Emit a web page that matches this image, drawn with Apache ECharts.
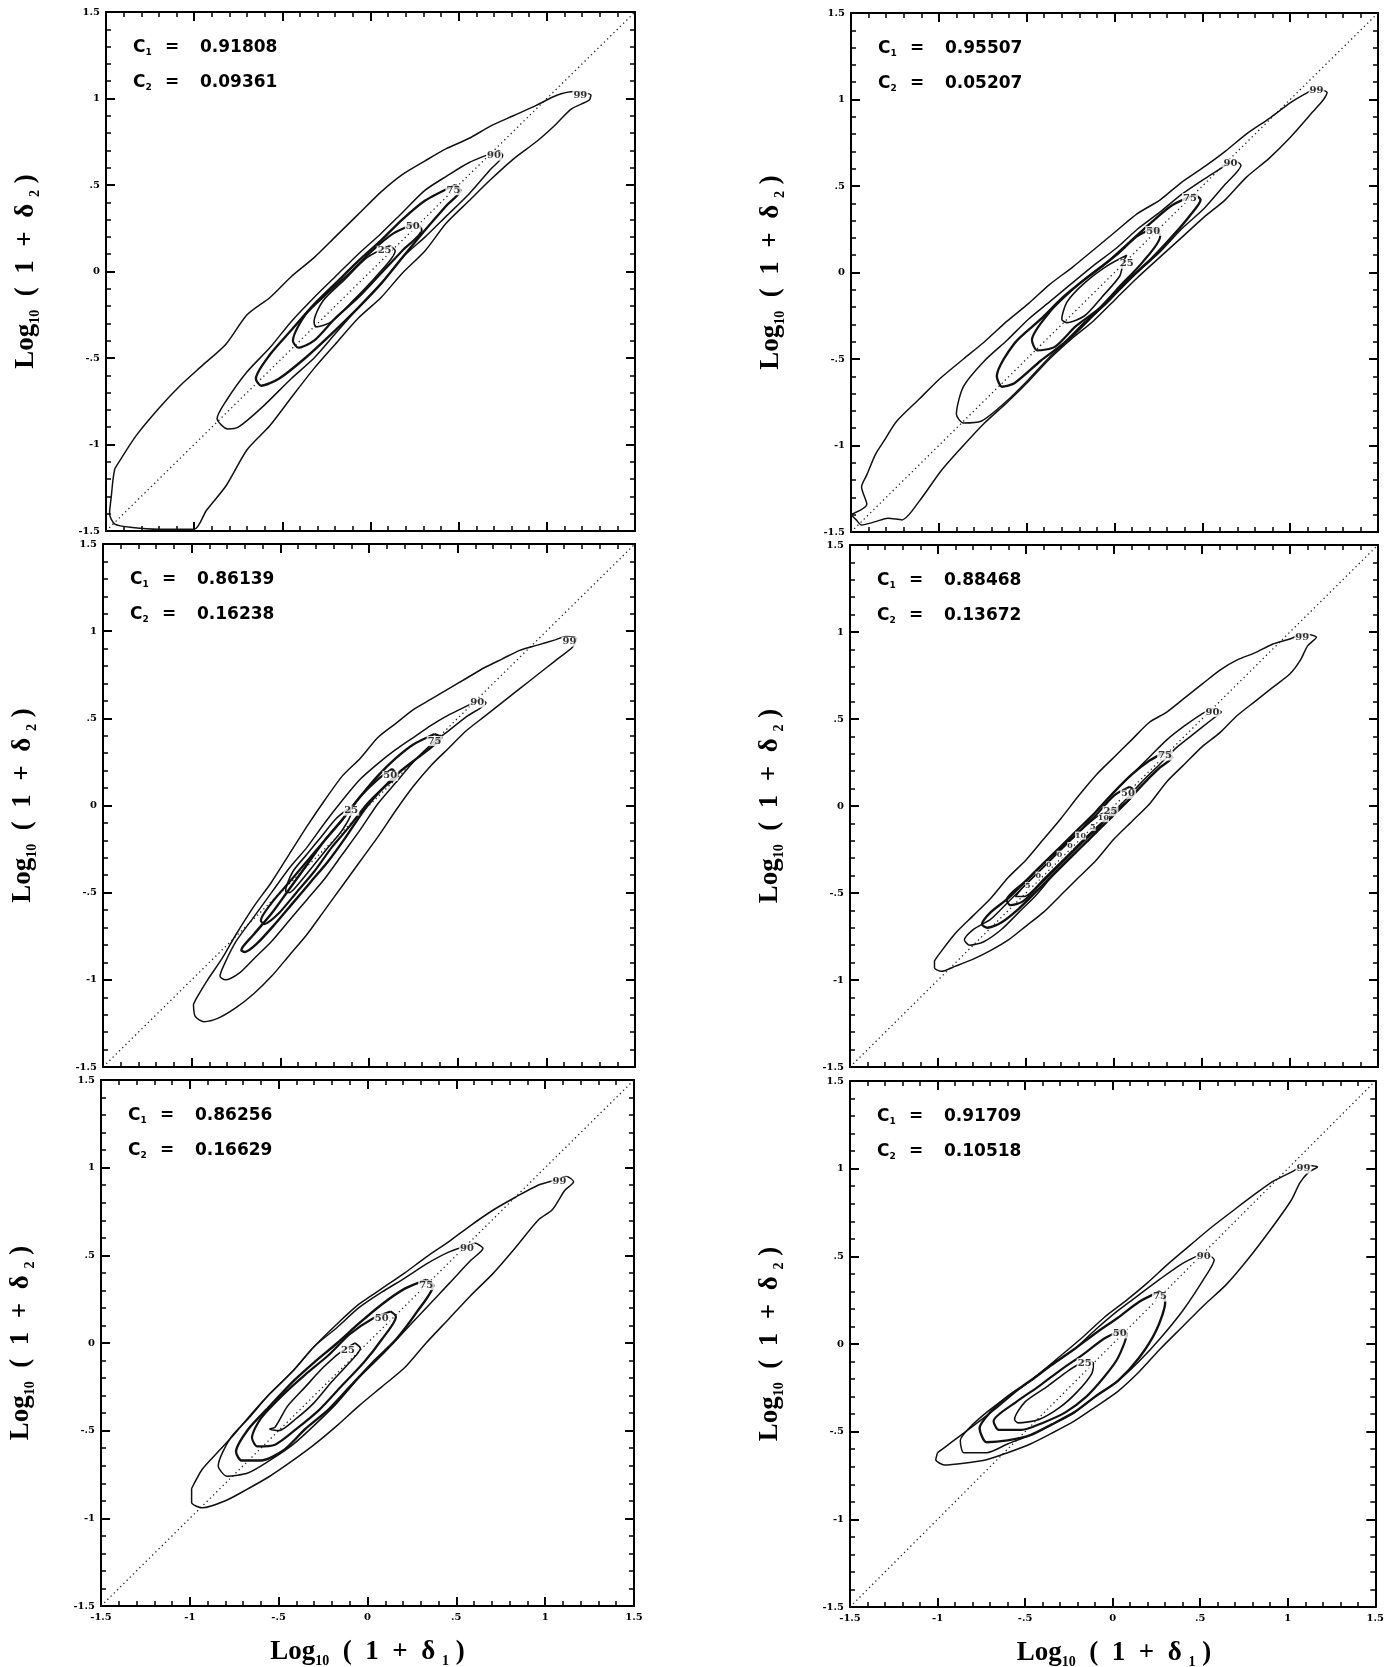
<!DOCTYPE html>
<html>
<head>
<meta charset="utf-8">
<script src="https://cdn.jsdelivr.net/npm/echarts@6/dist/echarts.min.js"></script>
<style>
html,body{margin:0;padding:0;background:#fff;}
#chart{width:1387px;height:1667px;}
</style>
</head>
<body>
<div id="chart"></div>
<script>
// ---------- data ----------
const AXIS_MIN = -1.5, AXIS_MAX = 1.5, AXIS_INTERVAL = 0.5;
const DIAGONAL = [[-1.5, -1.5], [1.5, 1.5]];
const LEVELS = ['99', '90', '75', '50', '25'];
const C1_VALUES = ['0.91808', '0.95507', '0.86139', '0.88468', '0.86256', '0.91709'];
const C2_VALUES = ['0.09361', '0.05207', '0.16238', '0.13672', '0.16629', '0.10518'];

// Panel 1 (top left)
const P1_99 = [[-1.45,-1.14],[-1.33,-0.95],[-1.20,-0.79],[-1.08,-0.66],[-0.95,-0.54],[-0.82,-0.42],[-0.70,-0.25],[-0.57,-0.15],[-0.45,-0.03],[-0.32,0.08],[-0.20,0.20],[-0.07,0.33],[0.06,0.46],[0.18,0.56],[0.31,0.64],[0.43,0.71],[0.56,0.77],[0.68,0.84],[0.81,0.90],[0.94,0.96],[1.06,1.02],[1.16,1.04],[1.25,1.02],[1.24,0.99],[1.14,0.94],[1.04,0.84],[0.94,0.75],[0.81,0.65],[0.68,0.53],[0.56,0.41],[0.43,0.28],[0.31,0.12],[0.18,-0.01],[0.06,-0.15],[-0.07,-0.27],[-0.20,-0.42],[-0.32,-0.56],[-0.45,-0.73],[-0.57,-0.89],[-0.70,-1.03],[-0.82,-1.24],[-0.93,-1.38],[-1.00,-1.49],[-1.20,-1.49],[-1.35,-1.48],[-1.45,-1.46],[-1.48,-1.40],[-1.47,-1.30],[-1.46,-1.20],[-1.45,-1.14]];
const P1_90 = [[0.73,0.70],[0.56,0.63],[0.43,0.55],[0.31,0.47],[0.18,0.34],[0.06,0.22],[-0.07,0.10],[-0.20,-0.03],[-0.32,-0.15],[-0.45,-0.29],[-0.57,-0.44],[-0.70,-0.58],[-0.82,-0.75],[-0.87,-0.85],[-0.81,-0.91],[-0.75,-0.90],[-0.62,-0.79],[-0.45,-0.62],[-0.32,-0.50],[-0.20,-0.36],[-0.07,-0.21],[0.06,-0.07],[0.18,0.08],[0.31,0.20],[0.43,0.32],[0.56,0.45],[0.68,0.59],[0.75,0.67],[0.73,0.70]];
const P1_75 = [[0.48,0.50],[0.31,0.41],[0.18,0.30],[0.06,0.18],[-0.07,0.06],[-0.20,-0.07],[-0.32,-0.19],[-0.45,-0.34],[-0.57,-0.48],[-0.65,-0.62],[-0.62,-0.66],[-0.52,-0.62],[-0.37,-0.50],[-0.20,-0.34],[-0.07,-0.21],[0.06,-0.07],[0.18,0.08],[0.31,0.24],[0.43,0.38],[0.51,0.47],[0.48,0.50]];
const P1_50 = [[0.26,0.28],[0.13,0.22],[0.01,0.12],[-0.12,-0.01],[-0.25,-0.13],[-0.37,-0.25],[-0.44,-0.40],[-0.41,-0.44],[-0.32,-0.40],[-0.20,-0.27],[-0.07,-0.15],[0.06,-0.01],[0.18,0.12],[0.29,0.24],[0.26,0.28]];
const P1_25 = [[0.11,0.15],[-0.02,0.08],[-0.15,-0.05],[-0.27,-0.17],[-0.32,-0.29],[-0.31,-0.32],[-0.22,-0.29],[-0.10,-0.17],[0.03,-0.03],[0.14,0.12],[0.11,0.15]];
const P1_LABELS = [[1.19,1.02],[0.70,0.67],[0.47,0.47],[0.24,0.26],[0.08,0.12]];

// Panel 2 (top right)
const P2_99 = [[-1.50,-1.40],[-1.41,-1.34],[-1.44,-1.24],[-1.41,-1.17],[-1.36,-1.05],[-1.31,-0.97],[-1.24,-0.86],[-1.11,-0.73],[-0.99,-0.61],[-0.86,-0.50],[-0.74,-0.40],[-0.61,-0.28],[-0.49,-0.18],[-0.37,-0.07],[-0.24,0.03],[-0.12,0.13],[0.01,0.24],[0.13,0.34],[0.26,0.42],[0.38,0.52],[0.51,0.61],[0.63,0.70],[0.75,0.80],[0.88,0.89],[1.00,0.98],[1.08,1.03],[1.15,1.06],[1.21,1.04],[1.19,1.00],[1.13,0.93],[1.00,0.78],[0.88,0.66],[0.75,0.55],[0.63,0.42],[0.51,0.32],[0.38,0.20],[0.26,0.09],[0.13,-0.03],[0.01,-0.15],[-0.12,-0.28],[-0.24,-0.38],[-0.37,-0.50],[-0.49,-0.63],[-0.61,-0.75],[-0.74,-0.87],[-0.86,-1.00],[-0.99,-1.15],[-1.11,-1.32],[-1.21,-1.43],[-1.29,-1.42],[-1.36,-1.44],[-1.44,-1.46],[-1.47,-1.43],[-1.50,-1.40]];
const P2_90 = [[0.68,0.65],[0.51,0.54],[0.38,0.45],[0.26,0.35],[0.13,0.25],[0.01,0.14],[-0.12,0.04],[-0.24,-0.06],[-0.37,-0.17],[-0.49,-0.27],[-0.61,-0.39],[-0.74,-0.51],[-0.86,-0.66],[-0.90,-0.82],[-0.86,-0.87],[-0.76,-0.86],[-0.61,-0.74],[-0.49,-0.62],[-0.37,-0.49],[-0.24,-0.37],[-0.12,-0.25],[0.01,-0.12],[0.13,0.00],[0.26,0.12],[0.38,0.25],[0.51,0.37],[0.63,0.51],[0.72,0.62],[0.68,0.65]];
const P2_75 = [[0.46,0.45],[0.33,0.39],[0.21,0.29],[0.08,0.17],[-0.04,0.06],[-0.17,-0.04],[-0.29,-0.14],[-0.42,-0.27],[-0.57,-0.41],[-0.67,-0.60],[-0.64,-0.66],[-0.57,-0.64],[-0.42,-0.51],[-0.29,-0.41],[-0.17,-0.29],[-0.04,-0.17],[0.08,-0.04],[0.21,0.08],[0.33,0.21],[0.43,0.33],[0.49,0.42],[0.46,0.45]];
const P2_50 = [[0.23,0.26],[0.13,0.21],[0.01,0.10],[-0.12,0.00],[-0.24,-0.10],[-0.37,-0.23],[-0.47,-0.39],[-0.44,-0.45],[-0.34,-0.43],[-0.22,-0.31],[-0.09,-0.21],[0.03,-0.08],[0.16,0.06],[0.26,0.21],[0.23,0.26]];
const P2_25 = [[0.07,0.10],[-0.04,0.04],[-0.17,-0.06],[-0.27,-0.17],[-0.30,-0.27],[-0.27,-0.29],[-0.17,-0.25],[-0.07,-0.14],[0.03,-0.02],[0.05,0.06],[0.07,0.10]];
const P2_LABELS = [[1.15,1.05],[0.66,0.63],[0.43,0.43],[0.22,0.24],[0.07,0.05]];

// Panel 3 (middle left)
const P3_99 = [[-0.99,-1.14],[-0.97,-1.10],[-0.91,-1.00],[-0.83,-0.88],[-0.75,-0.74],[-0.65,-0.58],[-0.55,-0.44],[-0.45,-0.28],[-0.35,-0.12],[-0.25,0.03],[-0.15,0.17],[-0.05,0.27],[0.05,0.39],[0.15,0.47],[0.25,0.55],[0.35,0.61],[0.45,0.67],[0.55,0.73],[0.65,0.79],[0.75,0.84],[0.85,0.89],[0.95,0.92],[1.05,0.95],[1.11,0.97],[1.17,0.96],[1.15,0.91],[1.05,0.83],[0.95,0.75],[0.85,0.67],[0.75,0.59],[0.65,0.51],[0.55,0.43],[0.45,0.33],[0.35,0.23],[0.25,0.11],[0.15,-0.03],[0.05,-0.18],[-0.05,-0.32],[-0.15,-0.46],[-0.25,-0.60],[-0.35,-0.74],[-0.45,-0.86],[-0.55,-0.98],[-0.65,-1.08],[-0.75,-1.16],[-0.85,-1.22],[-0.93,-1.24],[-0.98,-1.21],[-0.99,-1.14]];
const P3_90 = [[0.63,0.61],[0.55,0.57],[0.45,0.52],[0.35,0.46],[0.25,0.39],[0.15,0.32],[0.05,0.24],[-0.05,0.15],[-0.15,0.03],[-0.25,-0.10],[-0.35,-0.24],[-0.45,-0.36],[-0.55,-0.50],[-0.65,-0.64],[-0.75,-0.78],[-0.82,-0.92],[-0.84,-0.98],[-0.81,-1.00],[-0.73,-0.96],[-0.65,-0.88],[-0.55,-0.78],[-0.45,-0.66],[-0.35,-0.54],[-0.25,-0.42],[-0.15,-0.28],[-0.05,-0.14],[0.05,0.01],[0.15,0.13],[0.25,0.25],[0.35,0.35],[0.45,0.43],[0.55,0.51],[0.66,0.59],[0.63,0.61]];
const P3_75 = [[0.37,0.41],[0.25,0.35],[0.15,0.27],[0.05,0.17],[-0.05,0.05],[-0.15,-0.08],[-0.25,-0.20],[-0.35,-0.34],[-0.45,-0.48],[-0.55,-0.62],[-0.65,-0.74],[-0.72,-0.83],[-0.70,-0.84],[-0.63,-0.79],[-0.53,-0.68],[-0.43,-0.56],[-0.33,-0.44],[-0.23,-0.32],[-0.13,-0.18],[-0.03,-0.03],[0.07,0.09],[0.17,0.19],[0.27,0.27],[0.37,0.35],[0.41,0.39],[0.37,0.41]];
const P3_50 = [[0.13,0.21],[0.05,0.15],[-0.05,0.05],[-0.15,-0.08],[-0.25,-0.20],[-0.35,-0.32],[-0.45,-0.44],[-0.55,-0.56],[-0.61,-0.66],[-0.59,-0.68],[-0.51,-0.62],[-0.41,-0.50],[-0.31,-0.38],[-0.21,-0.24],[-0.11,-0.12],[-0.01,0.01],[0.09,0.11],[0.16,0.17],[0.13,0.21]];
const P3_25 = [[-0.12,-0.02],[-0.19,-0.08],[-0.27,-0.18],[-0.35,-0.28],[-0.43,-0.38],[-0.47,-0.49],[-0.45,-0.50],[-0.39,-0.44],[-0.31,-0.34],[-0.23,-0.24],[-0.15,-0.14],[-0.10,-0.04],[-0.12,-0.02]];
const P3_LABELS = [[1.13,0.94],[0.61,0.59],[0.37,0.37],[0.12,0.17],[-0.10,-0.03]];

// Panel 4 (middle right)
const P4_99 = [[-1.02,-0.89],[-1.00,-0.86],[-0.90,-0.73],[-0.80,-0.63],[-0.70,-0.53],[-0.60,-0.41],[-0.50,-0.31],[-0.40,-0.19],[-0.30,-0.07],[-0.20,0.06],[-0.10,0.18],[0.00,0.28],[0.10,0.38],[0.20,0.48],[0.30,0.54],[0.40,0.62],[0.50,0.70],[0.60,0.78],[0.70,0.84],[0.80,0.88],[0.90,0.93],[1.00,0.96],[1.08,0.99],[1.15,0.97],[1.10,0.92],[1.06,0.84],[1.00,0.76],[0.90,0.68],[0.80,0.60],[0.70,0.52],[0.60,0.42],[0.50,0.34],[0.40,0.24],[0.30,0.14],[0.20,0.01],[0.10,-0.09],[0.00,-0.19],[-0.10,-0.31],[-0.20,-0.41],[-0.30,-0.51],[-0.40,-0.61],[-0.50,-0.69],[-0.60,-0.77],[-0.70,-0.83],[-0.80,-0.88],[-0.90,-0.92],[-0.98,-0.95],[-1.02,-0.93],[-1.02,-0.89]];
const P4_90 = [[0.56,0.56],[0.50,0.53],[0.40,0.46],[0.30,0.38],[0.20,0.28],[0.10,0.18],[0.00,0.08],[-0.10,-0.03],[-0.20,-0.15],[-0.30,-0.25],[-0.40,-0.35],[-0.50,-0.45],[-0.60,-0.55],[-0.70,-0.65],[-0.80,-0.71],[-0.85,-0.77],[-0.82,-0.80],[-0.74,-0.78],[-0.64,-0.71],[-0.54,-0.61],[-0.44,-0.51],[-0.34,-0.39],[-0.24,-0.29],[-0.14,-0.19],[-0.04,-0.07],[0.06,0.03],[0.16,0.14],[0.26,0.24],[0.36,0.34],[0.46,0.42],[0.56,0.50],[0.61,0.54],[0.56,0.56]];
const P4_75 = [[0.29,0.31],[0.20,0.26],[0.10,0.18],[0.00,0.08],[-0.10,-0.03],[-0.20,-0.13],[-0.30,-0.23],[-0.40,-0.33],[-0.50,-0.43],[-0.60,-0.53],[-0.70,-0.61],[-0.75,-0.68],[-0.72,-0.70],[-0.64,-0.67],[-0.54,-0.59],[-0.44,-0.49],[-0.34,-0.39],[-0.24,-0.29],[-0.14,-0.19],[-0.04,-0.09],[0.06,0.01],[0.16,0.12],[0.26,0.22],[0.33,0.28],[0.29,0.31]];
const P4_50 = [[0.09,0.11],[0.00,0.06],[-0.10,-0.05],[-0.20,-0.15],[-0.30,-0.24],[-0.40,-0.33],[-0.50,-0.43],[-0.61,-0.54],[-0.59,-0.57],[-0.52,-0.55],[-0.42,-0.45],[-0.32,-0.35],[-0.22,-0.25],[-0.12,-0.15],[-0.02,-0.05],[0.08,0.03],[0.12,0.08],[0.09,0.11]];
const P4_25 = [[0.00,-0.02],[-0.08,-0.05],[-0.20,-0.15],[-0.32,-0.27],[-0.44,-0.39],[-0.52,-0.47],[-0.56,-0.52],[-0.51,-0.52],[-0.40,-0.42],[-0.28,-0.30],[-0.16,-0.18],[-0.04,-0.07],[0.01,-0.03],[0.00,-0.02]];
const P4_LABELS = [[1.07,0.97],[0.56,0.54],[0.29,0.29],[0.08,0.07],[-0.02,-0.03]];
const P4_INNER_LABELS = [[-0.49,-0.46,'5'],[-0.43,-0.40,'0'],[-0.37,-0.34,'0'],[-0.31,-0.28,'0'],[-0.25,-0.23,'0'],[-0.19,-0.17,'10'],[-0.12,-0.12,'5'],[-0.06,-0.07,'10']];

// Panel 5 (bottom left)
const P5_99 = [[-0.99,-0.83],[-0.93,-0.72],[-0.85,-0.63],[-0.75,-0.52],[-0.65,-0.40],[-0.55,-0.29],[-0.42,-0.16],[-0.30,-0.02],[-0.17,0.11],[-0.05,0.22],[0.08,0.31],[0.21,0.40],[0.33,0.49],[0.46,0.58],[0.58,0.67],[0.71,0.76],[0.83,0.83],[0.96,0.90],[1.06,0.93],[1.12,0.95],[1.16,0.92],[1.11,0.87],[1.04,0.76],[0.96,0.70],[0.83,0.54],[0.71,0.40],[0.58,0.27],[0.46,0.14],[0.33,0.00],[0.21,-0.14],[0.08,-0.25],[-0.05,-0.36],[-0.17,-0.47],[-0.30,-0.58],[-0.42,-0.67],[-0.55,-0.76],[-0.67,-0.83],[-0.80,-0.90],[-0.93,-0.94],[-0.99,-0.91],[-0.99,-0.83]];
const P5_90 = [[0.61,0.57],[0.46,0.52],[0.33,0.45],[0.21,0.37],[0.08,0.29],[-0.05,0.20],[-0.17,0.09],[-0.30,-0.02],[-0.42,-0.16],[-0.55,-0.29],[-0.67,-0.43],[-0.77,-0.54],[-0.84,-0.70],[-0.79,-0.76],[-0.67,-0.74],[-0.55,-0.67],[-0.42,-0.58],[-0.30,-0.47],[-0.17,-0.34],[-0.05,-0.20],[0.08,-0.07],[0.21,0.07],[0.33,0.20],[0.46,0.34],[0.58,0.47],[0.65,0.54],[0.61,0.57]];
const P5_75 = [[0.33,0.36],[0.21,0.31],[0.08,0.22],[-0.05,0.11],[-0.17,0.00],[-0.30,-0.11],[-0.42,-0.22],[-0.55,-0.36],[-0.67,-0.49],[-0.74,-0.62],[-0.71,-0.67],[-0.60,-0.67],[-0.47,-0.61],[-0.35,-0.49],[-0.22,-0.38],[-0.10,-0.25],[0.03,-0.11],[0.16,0.02],[0.28,0.18],[0.37,0.33],[0.33,0.36]];
const P5_50 = [[0.13,0.18],[0.03,0.14],[-0.10,0.05],[-0.22,-0.07],[-0.35,-0.18],[-0.47,-0.29],[-0.60,-0.43],[-0.65,-0.54],[-0.62,-0.59],[-0.52,-0.58],[-0.40,-0.49],[-0.27,-0.38],[-0.15,-0.25],[-0.02,-0.11],[0.08,0.02],[0.16,0.15],[0.13,0.18]];
const P5_25 = [[-0.07,0.00],[-0.15,-0.05],[-0.25,-0.14],[-0.35,-0.25],[-0.45,-0.36],[-0.52,-0.48],[-0.55,-0.49],[-0.50,-0.50],[-0.40,-0.43],[-0.30,-0.34],[-0.20,-0.22],[-0.10,-0.11],[-0.04,-0.03],[-0.07,0.00]];
const P5_LABELS = [[1.08,0.92],[0.56,0.54],[0.33,0.33],[0.08,0.14],[-0.11,-0.04]];

// Panel 6 (bottom right)
const P6_99 = [[-1.00,-0.62],[-0.92,-0.56],[-0.80,-0.47],[-0.67,-0.37],[-0.55,-0.27],[-0.42,-0.17],[-0.30,-0.07],[-0.17,0.04],[-0.05,0.15],[0.08,0.25],[0.20,0.35],[0.32,0.46],[0.45,0.57],[0.57,0.67],[0.70,0.77],[0.82,0.86],[0.92,0.93],[1.02,0.98],[1.10,1.02],[1.17,1.01],[1.12,0.98],[1.07,0.92],[1.02,0.82],[0.90,0.65],[0.77,0.48],[0.65,0.34],[0.52,0.22],[0.40,0.10],[0.27,-0.03],[0.15,-0.16],[0.03,-0.27],[-0.10,-0.36],[-0.22,-0.44],[-0.35,-0.51],[-0.47,-0.57],[-0.60,-0.62],[-0.72,-0.66],[-0.85,-0.68],[-0.96,-0.69],[-1.01,-0.66],[-1.00,-0.62]];
const P6_90 = [[0.52,0.52],[0.40,0.46],[0.27,0.37],[0.15,0.28],[0.03,0.19],[-0.10,0.08],[-0.22,-0.03],[-0.35,-0.12],[-0.47,-0.21],[-0.60,-0.30],[-0.72,-0.39],[-0.82,-0.48],[-0.87,-0.55],[-0.85,-0.62],[-0.72,-0.62],[-0.60,-0.57],[-0.47,-0.52],[-0.35,-0.46],[-0.22,-0.39],[-0.10,-0.30],[0.03,-0.21],[0.15,-0.10],[0.27,0.03],[0.40,0.19],[0.52,0.37],[0.58,0.48],[0.52,0.52]];
const P6_75 = [[0.27,0.30],[0.15,0.24],[0.03,0.15],[-0.10,0.06],[-0.22,-0.03],[-0.35,-0.12],[-0.47,-0.21],[-0.60,-0.30],[-0.70,-0.39],[-0.76,-0.48],[-0.72,-0.56],[-0.60,-0.55],[-0.47,-0.52],[-0.35,-0.46],[-0.22,-0.39],[-0.10,-0.30],[0.03,-0.21],[0.15,-0.08],[0.25,0.08],[0.30,0.24],[0.27,0.30]];
const P6_50 = [[0.05,0.08],[-0.05,0.03],[-0.17,-0.06],[-0.30,-0.15],[-0.42,-0.24],[-0.55,-0.33],[-0.68,-0.44],[-0.65,-0.49],[-0.52,-0.49],[-0.40,-0.45],[-0.27,-0.39],[-0.15,-0.30],[-0.05,-0.19],[0.03,-0.08],[0.08,0.06],[0.05,0.08]];
const P6_25 = [[-0.15,-0.09],[-0.25,-0.15],[-0.37,-0.24],[-0.50,-0.33],[-0.56,-0.43],[-0.54,-0.45],[-0.42,-0.43],[-0.30,-0.36],[-0.20,-0.27],[-0.12,-0.17],[-0.11,-0.11],[-0.15,-0.09]];
const P6_LABELS = [[1.09,1.00],[0.52,0.50],[0.27,0.27],[0.04,0.06],[-0.16,-0.11]];

// ---------- layout ----------
const GRIDS = [
  {left: 106, top: 12,   width: 529, height: 519},
  {left: 851, top: 13,   width: 527, height: 519},
  {left: 103, top: 544,  width: 532, height: 523},
  {left: 850, top: 545,  width: 528, height: 522},
  {left: 101, top: 1080, width: 533, height: 526},
  {left: 850, top: 1081, width: 528, height: 526}
];
const SHOW_X_LABELS = [false, false, false, false, true, true];
const CONTOURS = [
  [P1_99, P1_90, P1_75, P1_50, P1_25],
  [P2_99, P2_90, P2_75, P2_50, P2_25],
  [P3_99, P3_90, P3_75, P3_50, P3_25],
  [P4_99, P4_90, P4_75, P4_50, P4_25],
  [P5_99, P5_90, P5_75, P5_50, P5_25],
  [P6_99, P6_90, P6_75, P6_50, P6_25]
];
const LABEL_POS = [P1_LABELS, P2_LABELS, P3_LABELS, P4_LABELS, P5_LABELS, P6_LABELS];
const LEVEL_WIDTH = {'99': 1.5, '90': 1.5, '75': 2.4, '50': 2.2, '25': 1.6};

const TICK_FONT = {fontFamily: 'DejaVu Serif', fontWeight: 'bold', fontSize: 10, color: '#000'};
function tickFmt(v) {
  if (Math.abs(v) < 1e-9) return '0';
  return String(Math.round(v * 10) / 10).replace('0.', '.');
}

const xAxes = [], yAxes = [], series = [], graphics = [];

GRIDS.forEach((g, i) => {
  const common = {
    gridIndex: i, type: 'value', min: AXIS_MIN, max: AXIS_MAX, interval: AXIS_INTERVAL,
    axisLine: {onZero: false, lineStyle: {color: '#000', width: 2}},
    axisTick: {show: true, inside: true, length: 9, lineStyle: {color: '#000', width: 2}},
    minorTick: {show: true, splitNumber: 5, length: 5, lineStyle: {color: '#000', width: 1.5}},
    splitLine: {show: false}, minorSplitLine: {show: false}
  };
  xAxes.push(Object.assign({}, common, {position: 'bottom',
    axisLabel: Object.assign({show: SHOW_X_LABELS[i], margin: 6, formatter: tickFmt, showMinLabel: true, showMaxLabel: true}, TICK_FONT)}));
  xAxes.push(Object.assign({}, common, {position: 'top', axisLabel: {show: false}}));
  yAxes.push(Object.assign({}, common, {position: 'left',
    axisLabel: Object.assign({show: true, margin: 6, formatter: tickFmt, showMinLabel: true, showMaxLabel: true}, TICK_FONT)}));
  yAxes.push(Object.assign({}, common, {position: 'right', axisLabel: {show: false}}));

  const xi = 2 * i, yi = 2 * i;
  series.push({
    type: 'line', xAxisIndex: xi, yAxisIndex: yi, data: DIAGONAL, symbol: 'none', silent: true,
    lineStyle: {color: '#222', width: 1.3, type: [1.3, 3.2]}, z: 2
  });
  CONTOURS[i].forEach((c, k) => {
    series.push({
      type: 'line', xAxisIndex: xi, yAxisIndex: yi, data: c, symbol: 'none', smooth: 0.25, silent: true,
      lineStyle: {color: '#111', width: LEVEL_WIDTH[LEVELS[k]]}, z: 3
    });
  });
  series.push({
    type: 'scatter', xAxisIndex: xi, yAxisIndex: yi, symbolSize: 1, itemStyle: {color: 'rgba(0,0,0,0)'}, silent: true, z: 5,
    data: LABEL_POS[i].map((p, k) => ({value: p, name: LEVELS[k]})),
    label: {show: true, position: 'inside', formatter: '{b}', fontFamily: 'DejaVu Serif', fontWeight: 'bold', fontSize: 10,
      color: '#000', backgroundColor: '#fff', padding: [0, 1]}
  });
  if (i === 3) {
    series.push({
      type: 'scatter', xAxisIndex: xi, yAxisIndex: yi, symbolSize: 1, itemStyle: {color: 'rgba(0,0,0,0)'}, silent: true, z: 5,
      data: P4_INNER_LABELS.map(p => ({value: [p[0], p[1]], name: p[2]})),
      label: {show: true, position: 'inside', formatter: '{b}', fontFamily: 'DejaVu Serif', fontWeight: 'bold', fontSize: 8,
        color: '#000', backgroundColor: '#fff', padding: [0, 0]}
    });
  }

  // C annotations
  const cFont = {fontFamily: 'DejaVu Sans', fontWeight: 'bold', fontSize: 17, fill: '#000'};
  [[C1_VALUES[i], '1', 35.5], [C2_VALUES[i], '2', 71]].forEach(([val, sub, dy]) => {
    graphics.push({type: 'text', x: g.left + 27, y: g.top + dy, silent: true,
      style: {text: '{c|C}{s|' + sub + '}', verticalAlign: 'middle', align: 'left',
        rich: {c: {fontFamily: 'DejaVu Sans', fontWeight: 'bold', fontSize: 17, verticalAlign: 'bottom'},
               s: {fontFamily: 'DejaVu Sans', fontWeight: 'bold', fontSize: 9, verticalAlign: 'bottom', padding: [0, 0, -1, 0]}}}});
    graphics.push({type: 'text', x: g.left + 59, y: g.top + dy, silent: true,
      style: Object.assign({text: '=', verticalAlign: 'middle', align: 'left'}, cFont)});
    graphics.push({type: 'text', x: g.left + 94, y: g.top + dy, silent: true,
      style: Object.assign({text: val, verticalAlign: 'middle', align: 'left'}, cFont)});
  });

  // Axis titles
  const titleRich = {
    m: {fontFamily: 'Liberation Serif', fontWeight: 'bold', fontSize: 27, verticalAlign: 'bottom'},
    s: {fontFamily: 'Liberation Serif', fontWeight: 'bold', fontSize: 14, verticalAlign: 'bottom', padding: [0, 0, -3, 0]}
  };
  graphics.push({type: 'text', x: g.left - 80, y: g.top + g.height / 2, rotation: Math.PI / 2, silent: true,
    style: {text: '{m|Log}{s|10}{m|  (  1  +  δ }{s|2}{m| )}', align: 'center', verticalAlign: 'middle', rich: titleRich}});
  if (SHOW_X_LABELS[i]) {
    graphics.push({type: 'text', x: g.left + g.width / 2, y: g.top + g.height + 46, silent: true,
      style: {text: '{m|Log}{s|10}{m|  (  1  +  δ }{s|1}{m| )}', align: 'center', verticalAlign: 'middle', rich: titleRich}});
  }
});

const chart = echarts.init(document.getElementById('chart'), null, {renderer: 'canvas'});
chart.setOption({
  animation: false,
  backgroundColor: '#fff',
  grid: GRIDS.map(g => Object.assign({containLabel: false}, g)),
  xAxis: xAxes,
  yAxis: yAxes,
  series: series,
  graphic: graphics
});
</script>
</body>
</html>
